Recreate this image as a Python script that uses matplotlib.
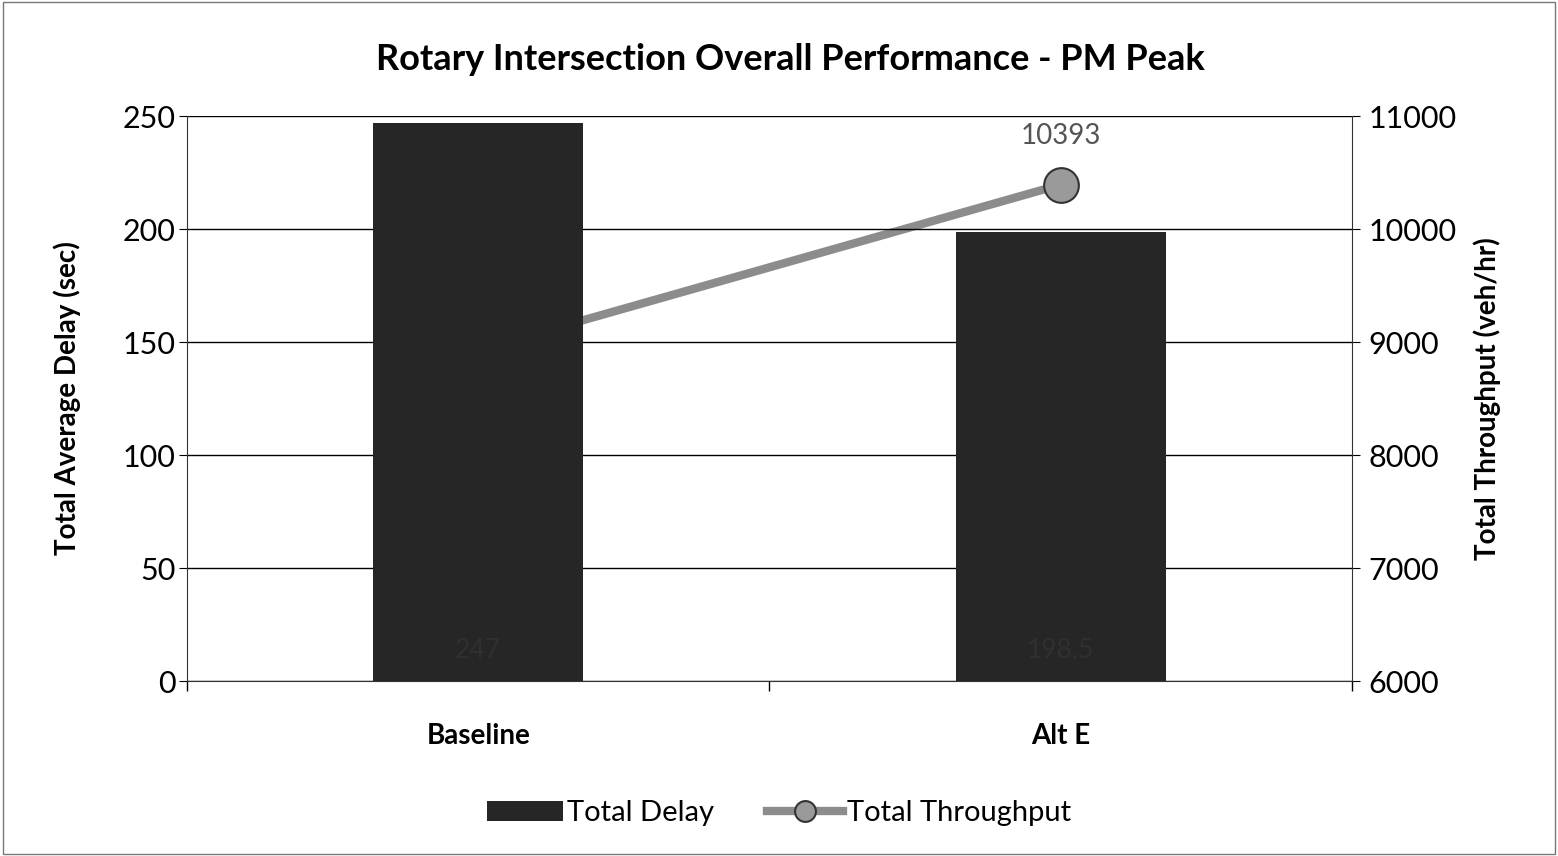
import matplotlib
matplotlib.use('Agg')
import matplotlib.pyplot as plt
from matplotlib.patches import Rectangle

plt.rcParams['font.family'] = ['Lato', 'DejaVu Sans']

categories = ['Baseline', 'Alt E']
total_delay = [247.0, 198.5]
total_throughput = [8930, 10393]

fig = plt.figure(figsize=(15.58, 8.56), dpi=100)
ax = fig.add_axes([0.12, 0.2044, 0.7478, 0.66])
ax2 = ax.twinx()

x = list(range(len(categories)))

# bars on the primary axis, line on the secondary axis drawn behind the bars
ax.bar(x, total_delay, width=0.36, color='#262626', zorder=3, label='Total Delay')
for xi, v in zip(x, total_delay):
    ax.text(xi, 8, f'{v:g}', ha='center', va='bottom', fontsize=19, color='#303030', zorder=4)

ax2.plot(x, total_throughput, color='#8c8c8c', lw=6, marker='o', markersize=25,
         markerfacecolor='#9a9a9a', markeredgecolor='#333333', markeredgewidth=1.5,
         label='Total Throughput', zorder=2)
ax2.annotate(f'{total_throughput[1]}', (x[1], total_throughput[1]), xytext=(0, 26),
             textcoords='offset points', ha='center', va='bottom', fontsize=20, color='#555555')

ax.set_zorder(ax2.get_zorder() + 1)
ax.patch.set_visible(False)

ax.set_xlim(-0.5, 1.5)
ax.set_ylim(0, 250)
ax.set_yticks(range(0, 251, 50))
ax2.set_ylim(6000, 11000)
ax2.set_yticks(range(6000, 11001, 1000))

ax.set_xticks(x)
ax.set_xticklabels(categories, fontsize=20, fontweight='bold')
ax.set_xticks([-0.5, 0.5, 1.5], minor=True)
ax.tick_params(axis='x', which='major', length=0, pad=30)
ax.tick_params(axis='x', which='minor', length=7, direction='out', width=1)
ax.tick_params(axis='y', labelsize=22, length=6, direction='out', pad=2)
ax2.tick_params(axis='y', labelsize=22, length=6, direction='out', pad=6)

ax.yaxis.grid(True, color='black', lw=1)
ax.set_axisbelow(True)
for s in ['top']:
    ax.spines[s].set_visible(False)
    ax2.spines[s].set_visible(False)
ax.spines['right'].set_visible(False)
ax2.spines['left'].set_visible(False)
ax2.spines['bottom'].set_visible(False)
for sp in [ax.spines['left'], ax.spines['bottom'], ax2.spines['right']]:
    sp.set_color('#333333')

ax.set_ylabel('Total Average Delay (sec)', fontsize=20, fontweight='bold', labelpad=30)
ax2.set_ylabel('Total Throughput (veh/hr)', fontsize=20, fontweight='bold', labelpad=12)

fig.suptitle('Rotary Intersection Overall Performance - PM Peak', fontsize=26,
             fontweight='bold', y=0.95, x=0.507)

h1, l1 = ax.get_legend_handles_labels()
h2, l2 = ax2.get_legend_handles_labels()
fig.legend(h1 + h2, l1 + l2, loc='center', bbox_to_anchor=(0.5, 0.05), ncol=2,
           frameon=False, fontsize=21, handlelength=2.6, handletextpad=0.15,
           columnspacing=1.8, markerscale=0.6)

fig.add_artist(Rectangle((0.002, 0.002), 0.996, 0.996, transform=fig.transFigure,
                         fill=False, edgecolor='#777777', lw=1))

fig.savefig('out.png', dpi=100)
